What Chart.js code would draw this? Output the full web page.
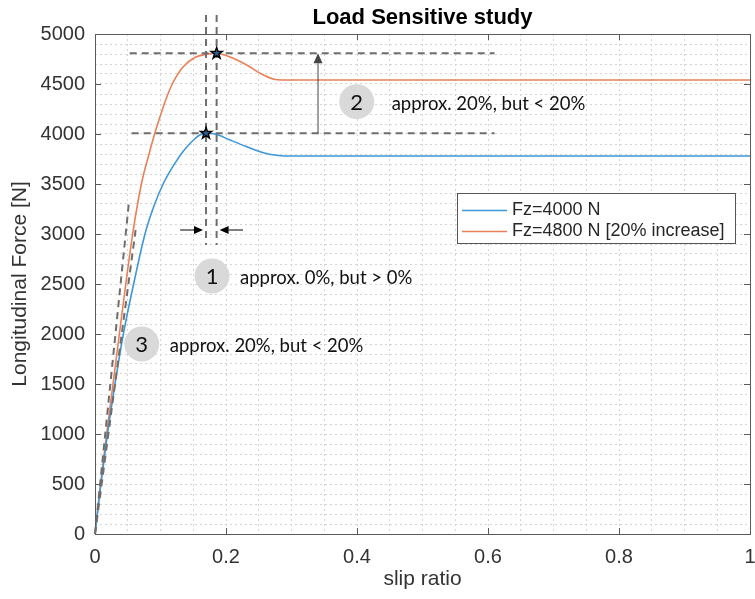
<!DOCTYPE html>
<html>
<head>
<meta charset="utf-8">
<script src="https://cdn.jsdelivr.net/npm/chart.js@4.4.1/dist/chart.umd.min.js"></script>
<style>
  html, body { margin: 0; padding: 0; background: #fff; }
  #wrap { width: 755px; height: 599px; }
</style>
</head>
<body>
<div id="wrap"><canvas id="tyreChart" width="755" height="599"></canvas></div>
<script>
// slip ratio / longitudinal force samples for the two vertical loads
const slip4000 = [0, 0.009, 0.019, 0.0305, 0.0433, 0.06, 0.0763, 0.09, 0.104, 0.122, 0.135, 0.152, 0.16, 0.1695, 0.185, 0.206, 0.2316, 0.257, 0.277, 0.29, 1];
const force4000 = [0, 500, 1000, 1500, 2000, 2530, 3000, 3280, 3500, 3707, 3830, 3950, 3990, 4007, 3997, 3940, 3873, 3813, 3787, 3780, 3780];
const slip4800 = [0, 0.0085, 0.0178, 0.0275, 0.0372, 0.047, 0.0575, 0.065, 0.0725, 0.0825, 0.091, 0.099, 0.1075, 0.118, 0.134, 0.153, 0.17, 0.1857, 0.2, 0.211, 0.2316, 0.252, 0.272, 0.285, 1];
const force4800 = [0, 500, 1000, 1500, 2000, 2500, 3000, 3300, 3550, 3800, 4000, 4167, 4333, 4500, 4667, 4767, 4797, 4807, 4785, 4757, 4690, 4607, 4550, 4540, 4540];
const seriesNames = ["Fz=4000 N", "Fz=4800 N [20% increase]"];

// annotation helpers (data units)
const guideStartX = [0.053, 0.056];
const guideEndX = 0.61;
const guideSpanY = [2890, 5190];
const tangentTips = [[0.052, 3330], [0.062, 3040]];
const riseArrowX = 0.3405;
const pinchArrowY = 3040;
const pinchTails = [0.13, 0.226];
const badgeNums = ["1", "2", "3"];
const badgeX = [0.1787, 0.3995, 0.0713];
const badgeY = [2580, 4323, 1900];
const badgeText = ["approx. 0%, but > 0%", "approx. 20%, but < 20%", "approx. 20%, but < 20%"];

const blue = "#3d97d8";
const orange = "#ea8058";

function toPoints(xs, ys) {
  let pts = [];
  for (let i = 0; i < xs.length; i++) pts.push({ x: xs[i], y: ys[i] });
  return pts;
}

function peakOf(xs, ys) {
  let k = 0;
  for (let i = 1; i < ys.length; i++) if (ys[i] > ys[k]) k = i;
  return { x: xs[k], y: ys[k] };
}

function dashed(ctx, x1, y1, x2, y2) {
  ctx.save();
  ctx.strokeStyle = "#6e6e6e";
  ctx.lineWidth = 2;
  ctx.setLineDash([7, 5]);
  ctx.beginPath();
  ctx.moveTo(x1, y1);
  ctx.lineTo(x2, y2);
  ctx.stroke();
  ctx.restore();
}

function arrow(ctx, x1, y1, x2, y2, color, head) {
  let a = Math.atan2(y2 - y1, x2 - x1);
  ctx.save();
  ctx.strokeStyle = color;
  ctx.fillStyle = color;
  ctx.lineWidth = 1;
  ctx.beginPath();
  ctx.moveTo(x1, y1);
  ctx.lineTo(x2 - Math.cos(a) * head, y2 - Math.sin(a) * head);
  ctx.stroke();
  ctx.beginPath();
  ctx.moveTo(x2, y2);
  ctx.lineTo(x2 - Math.cos(a) * head + Math.sin(a) * head * 0.45, y2 - Math.sin(a) * head - Math.cos(a) * head * 0.45);
  ctx.lineTo(x2 - Math.cos(a) * head - Math.sin(a) * head * 0.45, y2 - Math.sin(a) * head + Math.cos(a) * head * 0.45);
  ctx.closePath();
  ctx.fill();
  ctx.restore();
}

function star(ctx, cx, cy) {
  ctx.save();
  ctx.beginPath();
  for (let i = 0; i < 10; i++) {
    let r = i % 2 ? 2.4 : 6;
    let a = -Math.PI / 2 + i * Math.PI / 5;
    ctx.lineTo(cx + r * Math.cos(a), cy + r * Math.sin(a));
  }
  ctx.closePath();
  ctx.fillStyle = "#2a5d8c";
  ctx.fill();
  ctx.strokeStyle = "#000";
  ctx.lineWidth = 1.4;
  ctx.stroke();
  ctx.restore();
}

// box, inward ticks, notes and legend drawn on top of the plot
const decorations = {
  id: "decorations",
  afterDatasetsDraw(chart) {
    const ctx = chart.ctx;
    const xs = chart.scales.x, ys = chart.scales.y;
    const area = chart.chartArea;
    const px = v => xs.getPixelForValue(v);
    const py = v => ys.getPixelForValue(v);

    // axes box
    ctx.save();
    ctx.strokeStyle = "#5a5a5a";
    ctx.lineWidth = 1;
    ctx.strokeRect(area.left + 0.5, area.top + 0.5, area.right - area.left, area.bottom - area.top);
    for (let v = 0; v <= 1.0001; v += 0.2) {
      let x = Math.round(px(v)) + 0.5;
      ctx.beginPath();
      ctx.moveTo(x, area.bottom); ctx.lineTo(x, area.bottom - 6);
      ctx.moveTo(x, area.top); ctx.lineTo(x, area.top + 6);
      ctx.stroke();
    }
    for (let v = 0; v <= 5000; v += 500) {
      let y = Math.round(py(v)) + 0.5;
      ctx.beginPath();
      ctx.moveTo(area.left, y); ctx.lineTo(area.left + 6, y);
      ctx.moveTo(area.right, y); ctx.lineTo(area.right - 6, y);
      ctx.stroke();
    }
    ctx.restore();

    const p1 = peakOf(slip4000, force4000);
    const p2 = peakOf(slip4800, force4800);

    // guide lines through both peaks
    dashed(ctx, px(guideStartX[0]), py(p2.y), px(guideEndX), py(p2.y));
    dashed(ctx, px(guideStartX[1]), py(p1.y), px(guideEndX), py(p1.y));
    dashed(ctx, px(p1.x), py(guideSpanY[1]), px(p1.x), py(guideSpanY[0]));
    dashed(ctx, px(p2.x), py(guideSpanY[1]), px(p2.x), py(guideSpanY[0]));

    // initial stiffness tangents
    tangentTips.forEach(t => dashed(ctx, px(0), py(0), px(t[0]), py(t[1])));

    // peak rise and peak slip shift
    arrow(ctx, px(riseArrowX), py(p1.y), px(riseArrowX), py(p2.y), "#454545", 10);
    arrow(ctx, px(pinchTails[0]), py(pinchArrowY), px(p1.x) - 3, py(pinchArrowY), "#000", 9);
    arrow(ctx, px(pinchTails[1]), py(pinchArrowY), px(p2.x) + 3, py(pinchArrowY), "#000", 9);

    star(ctx, px(p1.x), py(p1.y));
    star(ctx, px(p2.x), py(p2.y));

    // numbered notes
    ctx.save();
    for (let i = 0; i < badgeNums.length; i++) {
      let cx = px(badgeX[i]), cy = py(badgeY[i]);
      ctx.beginPath();
      ctx.arc(cx, cy, 17.5, 0, Math.PI * 2);
      ctx.fillStyle = "#d9d9d9";
      ctx.fill();
      ctx.fillStyle = "#111";
      ctx.font = "22px Lato";
      ctx.textAlign = "center";
      ctx.textBaseline = "middle";
      ctx.fillText(badgeNums[i], cx, cy + 1);
      ctx.font = "18.5px Lato";
      ctx.textAlign = "left";
      ctx.fillText(badgeText[i], cx + (i == 1 ? 35 : 28), cy + 2);
    }
    ctx.restore();

    // legend
    ctx.save();
    let lx = 457, ly = 193, lw = 278, lh = 50;
    ctx.fillStyle = "#fff";
    ctx.fillRect(lx, ly, lw, lh);
    ctx.strokeStyle = "#555";
    ctx.lineWidth = 1;
    ctx.strokeRect(lx + 0.5, ly + 0.5, lw, lh);
    ctx.font = "18px 'Liberation Sans'";
    ctx.textBaseline = "middle";
    chart.data.datasets.forEach((ds, i) => {
      let y = ly + 17.5 + i * 21;
      ctx.strokeStyle = ds.borderColor;
      ctx.lineWidth = 1.5;
      ctx.beginPath();
      ctx.moveTo(lx + 5, y); ctx.lineTo(lx + 50, y);
      ctx.stroke();
      ctx.fillStyle = "#262626";
      ctx.fillText(ds.label, lx + 55, y);
    });
    ctx.restore();
  }
};

const ctxC = document.getElementById("tyreChart").getContext("2d");
const chart = new Chart(ctxC, {
  type: "line",
  data: {
    datasets: [
      { label: seriesNames[0], data: toPoints(slip4000, force4000), borderColor: blue, borderWidth: 1.6, pointRadius: 0, cubicInterpolationMode: "monotone" },
      { label: seriesNames[1], data: toPoints(slip4800, force4800), borderColor: orange, borderWidth: 1.6, pointRadius: 0, cubicInterpolationMode: "monotone" }
    ]
  },
  options: {
    responsive: false,
    animation: false,
    events: [],
    layout: { padding: { left: 0, right: 5, top: 0, bottom: 0 }, autoPadding: false },
    plugins: {
      legend: { display: false },
      tooltip: { enabled: false },
      title: {
        display: true,
        fullSize: false,
        text: "Load Sensitive study",
        color: "#000",
        font: { family: "'Liberation Sans'", size: 22, weight: "bold" },
        padding: { top: 5, bottom: 2.6 }
      }
    },
    scales: {
      x: {
        type: "linear",
        min: 0,
        max: 1,
        afterFit: s => {
          s.height = 65;
          s.paddingLeft = 0;
          s.paddingRight = 0;
        },
        ticks: {
          stepSize: 0.05,
          autoSkip: false,
          maxRotation: 0,
          padding: 11,
          color: "#333",
          font: { family: "'Liberation Sans'", size: 20 },
          callback: v => {
            let r = Math.round(v * 100);
            return r % 20 === 0 ? String(r / 100) : "";
          }
        },
        grid: { color: "#d4d4d4", lineWidth: 1, drawTicks: false },
        border: { display: false, dash: [2, 3] },
        title: {
          display: true,
          text: "slip ratio",
          color: "#333",
          font: { family: "'Liberation Sans'", size: 21 },
          padding: { top: 0, bottom: 7 }
        }
      },
      y: {
        min: 0,
        max: 5000,
        afterFit: s => { s.width = 95; },
        ticks: {
          stepSize: 100,
          autoSkip: false,
          padding: 10,
          color: "#333",
          font: { family: "'Liberation Sans'", size: 20 },
          callback: v => (v % 500 === 0 ? String(v) : "")
        },
        grid: { color: "#d4d4d4", lineWidth: 1, drawTicks: false },
        border: { display: false, dash: [2, 3] },
        title: {
          display: true,
          text: "Longitudinal Force [N]",
          color: "#333",
          font: { family: "'Liberation Sans'", size: 21 },
          padding: { top: 8, bottom: 0 }
        }
      }
    }
  },
  plugins: [decorations]
});
</script>
</body>
</html>
